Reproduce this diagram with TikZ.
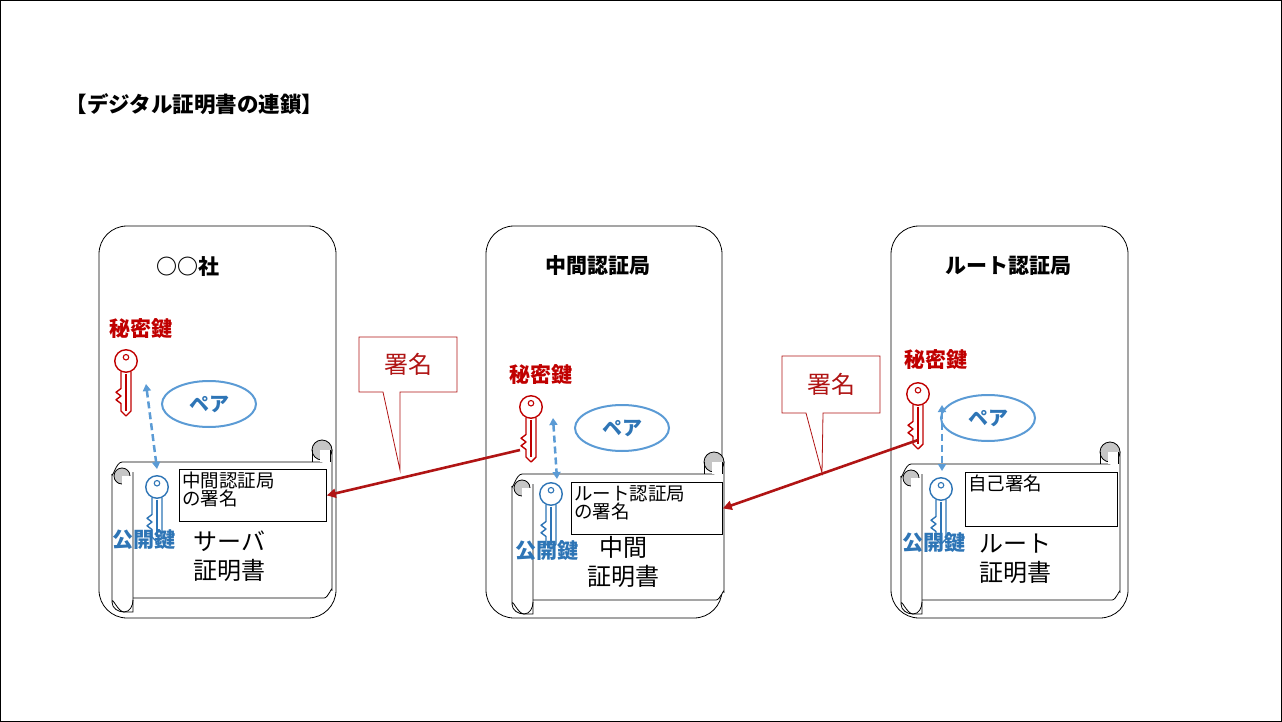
\documentclass[tikz,border=0pt]{standalone}
\usepackage{fontspec}
\setmainfont{Noto Sans CJK JP}
\usetikzlibrary{arrows.meta,shapes.geometric}
\definecolor{kred}{RGB}{192,0,0}
\definecolor{kblue}{RGB}{46,117,182}
\definecolor{lblue}{RGB}{91,155,213}
\definecolor{dred}{RGB}{176,20,20}
\tikzset{x=1pt,y=-1pt,
  panel/.style={draw,rounded corners=28pt,line width=0.8pt},
  lbl/.style={font=\fontsize{21}{24}\selectfont\bfseries},
  sig/.style={draw,line width=0.8pt,inner sep=0pt},
  sigtxt/.style={font=\fontsize{18.5}{20}\selectfont,align=left,anchor=north west,inner sep=3pt},
  cert/.style={font=\fontsize{24}{29}\selectfont,align=left},
  pair/.style={draw=lblue,line width=2pt,ellipse,minimum width=94pt,minimum height=46pt,text=kblue,font=\fontsize{20}{22}\selectfont\bfseries},
  pairarrow/.style={lblue,line width=2.5pt,dashed,dash pattern=on 7pt off 4pt,{Triangle[length=7pt,width=8pt]}-{Triangle[length=7pt,width=8pt]}},
  sigarrow/.style={dred,line width=2.6pt,-{Triangle[length=9pt,width=9pt]}},
  callout/.style={draw=dred,line width=0.8pt,fill=white},
  pics/key/.style={code={
    \begin{scope}[scale=1.25]
    \draw[#1,line width=1.4pt,fill=white] (0,0) circle (9);
    \draw[#1,line width=1.1pt] (0,-3) circle (2.2);
    \draw[#1,line width=1.4pt,line join=round] (-4,8.5) -- (-4,22) -- (-8,25) -- (-4,28) -- (-8,31) -- (-4,34) -- (-4,40) -- (0,44) -- (4,40) -- (4,8.5);
    \draw[#1,line width=1.1pt] (0,10) -- (0,40);
    \end{scope}
  }},
  pics/scroll/.style args={#1/#2}{code={
    \draw[line width=0.8pt,fill=white] (10,0) -- (#1-10,0) -- (#1-10,-12) -- (#1,-12) -- (#1,#2-22) to[out=90,in=0] (#1-8,#2-14) -- (21,#2-14);
    \draw[line width=0.8pt,fill=gray!45] (#1-10,-12) circle (10);
    \fill[white] (#1-12,-12) rectangle (#1-2,0);
    \draw[line width=0.8pt] (#1-20,-12) -- (#1-20,0) (#1-2,-12)--(#1-2,0);
    \draw[line width=0.8pt,fill=white] (0,12) -- (0,#2-10) to[out=90,in=180] (12,#2) -- (21,#2) -- (21,10);
    \draw[line width=0.8pt] (10,0) to[out=180,in=-90] (0,12);
    \draw[line width=0.8pt,fill=gray!45] (10,14) circle (8);
    \fill[white] (10,14) rectangle (19,23);
    \draw[line width=0.8pt] (0,#2-10) to[out=-90,in=180] (12,#2) to[out=0,in=-90] (21,#2-12);
  }}
}
\begin{document}
\begin{tikzpicture}
\draw[line width=0.8pt] (0.5,0.5) rectangle (1281.5,721.5);
\useasboundingbox (0,0) rectangle (1282,722);
\node[anchor=west,font=\fontsize{21.5}{24}\selectfont\bfseries] (title) at (62,104) {【デジタル証明書の連鎖】};

% panels
\draw[panel] (99,226) rectangle (336,618);
\draw[panel] (486,226) rectangle (722,618);
\draw[panel] (891,226) rectangle (1128,618);
\node[lbl] (h1) at (188,267) {○○社};
\node[lbl] (h2) at (598,266) {中間認証局};
\node[lbl] (h3) at (1008,266) {ルート認証局};

% scrolls
\pic at (112,462) {scroll={220/150}};
\pic at (512,474) {scroll={212/140}};
\pic at (901,464) {scroll={219/150}};

% panel 1
\node[lbl,text=kred] (s1) at (141,329) {秘密鍵};
\pic at (126,361) {key=kred};
\coordinate (k1) at (146,384);
\node[pair] (p1) at (209,404) {ペア};
\pic at (157,487) {key=kblue};
\coordinate (b1) at (157,469);
\draw[pairarrow] (k1) -- (b1);
\node[lbl,text=kblue] (pub1) at (144,540) {公開鍵};
\node[sig,minimum width=147pt,minimum height=52pt,anchor=north west] (box1) at (179,469) {};
\node[sigtxt] at (box1.north west) {中間認証局\\[-2pt]の署名};
\node[cert,anchor=north west] (c1) at (190,527) {サーバ\\証明書};

% panel 2
\node[lbl,text=kred] (s2) at (541,375) {秘密鍵};
\pic at (531,407) {key=kred};
\coordinate (k2) at (553,418);
\node[pair] (p2) at (622,428) {ペア};
\pic at (551,494) {key=kblue};
\coordinate (b2) at (557,479);
\draw[pairarrow] (k2) -- (b2);
\node[lbl,text=kblue] (pub2) at (547,551) {公開鍵};
\node[sig,minimum width=151pt,minimum height=52pt,anchor=north west] (box2) at (571,482) {};
\node[sigtxt] at (box2.north west) {ルート認証局\\[-2pt]の署名};
\node[cert,anchor=north west,align=center] (c2) at (584,533) {中間\\証明書};

% panel 3
\node[lbl,text=kred] (s3) at (936,360) {秘密鍵};
\pic at (918,394) {key=kred};
\coordinate (k3) at (942,405);
\node[pair] (p3) at (988,418) {ペア};
\pic at (941,489) {key=kblue};
\coordinate (b3) at (942,471);
\draw[pairarrow] (k3) -- (b3);
\node[lbl,text=kblue] (pub3) at (934,543) {公開鍵};
\node[sig,minimum width=152pt,minimum height=54pt,anchor=north west] (box3) at (965,472) {};
\node[sigtxt] at (box3.north west) {自己署名};
\node[cert,anchor=north west,align=center] (c3) at (976,530) {ルート\\証明書};

% signature arrows
\coordinate (a2) at (520,450);
\coordinate (a3) at (918,440);
\draw[sigarrow] (a2) -- (box1.east);
\draw[sigarrow] (a3) -- (box2.east);

% callouts
\draw[callout] (359,337) -- (457,337) -- (457,392) -- (400,392) -- (400,470) -- (383,392) -- (359,392) -- cycle;
\node[text=dred,font=\fontsize{24}{26}\selectfont] (cl1) at (408,364) {署名};
\draw[callout] (782,356) -- (880,356) -- (880,413) -- (823,413) -- (822,473) -- (806,413) -- (782,413) -- cycle;
\node[text=dred,font=\fontsize{24}{26}\selectfont] (cl2) at (831,384) {署名};
\end{tikzpicture}
\end{document}
